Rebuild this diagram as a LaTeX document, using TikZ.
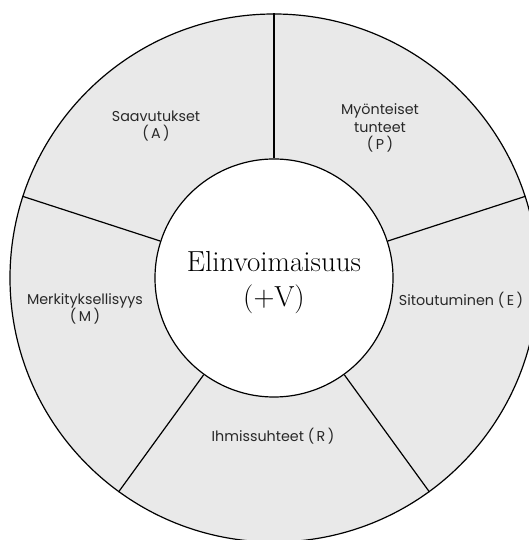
\documentclass[tikz,border=0pt]{standalone}
\usepackage{fontspec}
\usepackage{tikz}
\newfontfamily\labelfont{Poppins}
\definecolor{ringgray}{RGB}{233,233,233}
\definecolor{textgray}{RGB}{40,40,40}
\tikzset{
  ringline/.style={line width=1.2pt, draw=black},
  sectorlabel/.style={
    align=center,
    text=textgray,
    inner sep=0pt,
    font=\labelfont\fontsize{14.3}{17.5}\selectfont
  }
}

\begin{document}
\begin{tikzpicture}[x=1pt,y=1pt]
      \useasboundingbox (-274,-262) rectangle (255,278);
      \node [circle, ringline, fill=ringgray, minimum size=528pt, inner sep=0pt] (Ring) at (0,0) {};
      \node [circle, ringline, fill=white, minimum size=238pt, inner sep=0pt] (Core) at (0,0) {};
      \node [align=center, inner sep=0pt, font=\fontsize{29}{35}\selectfont] (CoreText) at (0,-5) {Elinvoimaisuus\\(+V)};

      \draw [ringline] (Core.90) to (Ring.90);
      \draw [ringline] (Core.18) to (Ring.18);
      \draw [ringline] (Core.-54) to (Ring.-54);
      \draw [ringline] (Core.-126) to (Ring.-126);
      \draw [ringline] (Core.162) to (Ring.162);

      \node [sectorlabel] (LabelA) at (-118,152) {Saavutukset\\(\,A\,)};
      \node [sectorlabel] (LabelP) at (106,150) {Myönteiset\\tunteet\\(\,P\,)};
      \node [sectorlabel] (LabelE) at (187,-22) {Sitoutuminen (\,E\,)};
      \node [sectorlabel] (LabelR) at (-1,-158) {Ihmissuhteet (\,R\,)};
      \node [sectorlabel] (LabelM) at (-189,-31) {Merkityksellisyys\\(\,M\,)};
    \end{tikzpicture}
\end{document}
